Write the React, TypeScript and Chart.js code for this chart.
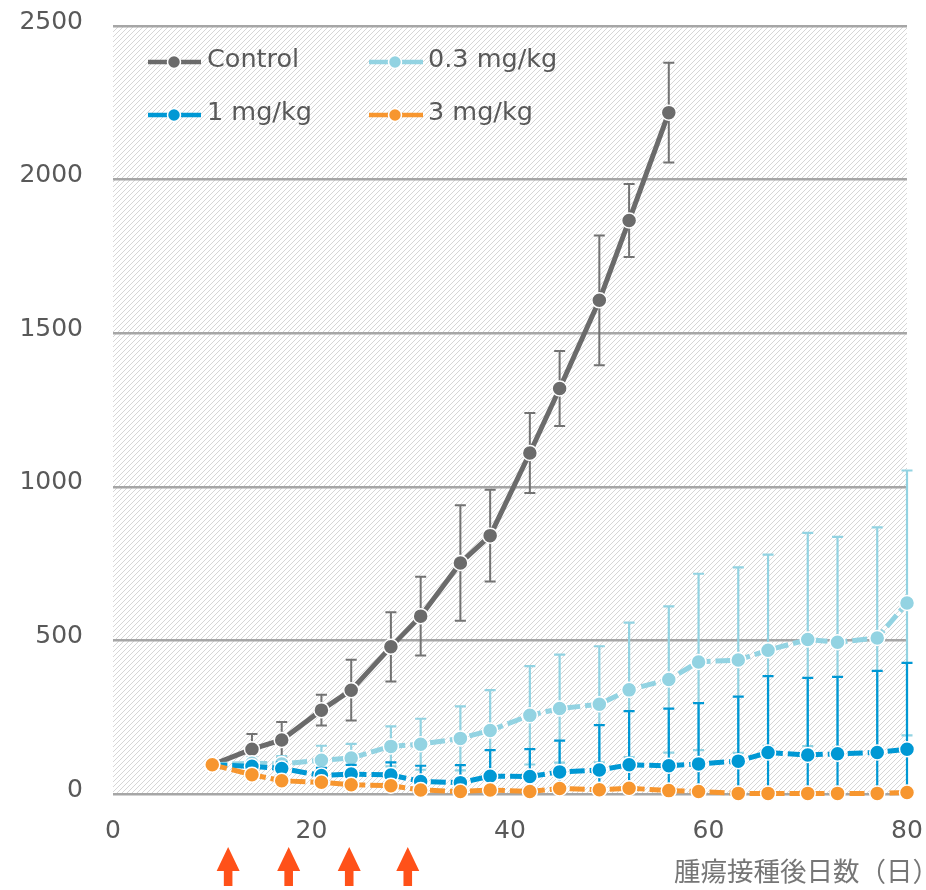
import React, { useEffect, useRef } from "react";
import { Chart, registerables } from "chart.js";

Chart.register(...registerables);

// ---- data ----
const days = [10, 14, 17, 21, 24, 28, 31, 35, 38, 42, 45, 49, 52, 56, 59, 63, 66, 70, 73, 77, 80];
const controlDays = [10, 14, 17, 21, 24, 28, 31, 35, 38, 42, 45, 49, 52, 56];
const controlMean = [95, 146, 176, 273, 338, 479, 579, 752, 841, 1110, 1320, 1607, 1867, 2218];
const controlSd = [8, 49, 58, 50, 99, 113, 128, 188, 149, 130, 122, 211, 119, 162];
const dose03Mean = [95, 100, 98, 110, 117, 155, 162, 181, 207, 256, 278, 292, 339, 373, 430, 436, 468, 503, 494, 508, 622];
const dose03Sd = [5, 20, 25, 47, 46, 65, 83, 104, 131, 160, 176, 189, 219, 238, 287, 302, 311, 347, 343, 360, 431];
const dose1Mean = [95, 90, 83, 60, 65, 62, 41, 37, 58, 57, 72, 78, 95, 92, 98, 107, 135, 127, 131, 135, 146];
const dose1Sd = [5, 15, 20, 25, 30, 41, 51, 57, 85, 89, 102, 146, 175, 186, 198, 210, 249, 251, 250, 266, 281];
const dose3Mean = [95, 63, 43, 38, 30, 27, 13, 8, 13, 8, 18, 14, 19, 11, 8, 2, 2, 2, 2, 2, 5];
const dose3Sd = [5, 10, 12, 14, 12, 12, 8, 6, 8, 6, 10, 8, 10, 6, 5, 2, 2, 2, 2, 2, 4];
const seriesLabels = ["Control", "0.3 mg/kg", "1 mg/kg", "3 mg/kg"];
const dosingDays = [11.6, 17.7, 23.8, 29.7];
const xTicks = [0, 20, 40, 60, 80];
const yTicks = [0, 500, 1000, 1500, 2000, 2500];
const xTitle = "腫瘍接種後日数（日）";

const COLORS = ["#6b6b6b", "#93d3e2", "#0098d4", "#f7962f"];
const ERR_COLORS = ["#737373", "#93d3e2", "#0098d4", "#f7962f"];
const FONT = "'DejaVu Sans', Verdana, sans-serif";
const TEXT = "#595959";

const toPts = (xs: number[], ys: number[]) => ys.map((y, i) => ({ x: xs[i], y }));

const bgPlugin = {
  id: "bgHatch",
  beforeDraw(chart: any) {
    const { ctx, chartArea, width, height } = chart;
    ctx.save();
    ctx.fillStyle = "#ffffff";
    ctx.fillRect(0, 0, width, height);
    const s = 5;
    const tile = document.createElement("canvas");
    tile.width = s;
    tile.height = s;
    const t = tile.getContext("2d")!;
    t.fillStyle = "#ffffff";
    t.fillRect(0, 0, s, s);
    t.strokeStyle = "#d6d6d6";
    t.lineWidth = 1;
    t.beginPath();
    t.moveTo(0, s);
    t.lineTo(s, 0);
    t.moveTo(-1, 1);
    t.lineTo(1, -1);
    t.moveTo(s - 1, s + 1);
    t.lineTo(s + 1, s - 1);
    t.stroke();
    const pat = ctx.createPattern(tile, "repeat");
    ctx.fillStyle = pat;
    ctx.fillRect(chartArea.left, chartArea.top, chartArea.right - chartArea.left, chartArea.bottom - chartArea.top);
    ctx.restore();
  },
};

const errPlugin = {
  id: "errBars",
  beforeDatasetDraw(chart: any, args: any) {
    const ds: any = chart.data.datasets[args.index];
    const sd: number[] = ds.sd;
    if (!sd) return;
    const { ctx, chartArea } = chart;
    const yS = chart.scales.y;
    ctx.save();
    ctx.beginPath();
    ctx.rect(chartArea.left - 10, chartArea.top, chartArea.right - chartArea.left + 20, chartArea.bottom - chartArea.top);
    ctx.clip();
    ctx.strokeStyle = ds.errColor;
    ctx.lineWidth = ds.errWidth;
    args.meta.data.forEach((pt: any, i: number) => {
      const v = ds.data[i].y;
      const e = sd[i];
      const x = pt.x;
      const y1 = yS.getPixelForValue(v + e);
      const y2 = yS.getPixelForValue(v - e);
      ctx.beginPath();
      ctx.moveTo(x, y1);
      ctx.lineTo(x, y2);
      ctx.moveTo(x - 5.5, y1);
      ctx.lineTo(x + 5.5, y1);
      ctx.moveTo(x - 5.5, y2);
      ctx.lineTo(x + 5.5, y2);
      ctx.stroke();
    });
    ctx.restore();
  },
};

const overlayPlugin = {
  id: "overlay",
  afterDraw(chart: any) {
    const { ctx } = chart;
    const xS = chart.scales.x;
    ctx.save();
    // legend
    const cols = [
      { x0: 148, x1: 201, dot: 174, tx: 207 },
      { x0: 369, x1: 423, dot: 395, tx: 428 },
    ];
    const rows = [{ sy: 62, ty: 67 }, { sy: 115, ty: 120 }];
    chart.data.datasets.forEach((ds: any, i: number) => {
      const c = cols[i % 2];
      const r = rows[Math.floor(i / 2)];
      ctx.strokeStyle = ds.borderColor;
      ctx.lineWidth = 4.5;
      ctx.beginPath();
      ctx.moveTo(c.x0, r.sy);
      ctx.lineTo(c.x1, r.sy);
      ctx.stroke();
      ctx.beginPath();
      ctx.arc(c.dot, r.sy, 6.5, 0, Math.PI * 2);
      ctx.fillStyle = ds.borderColor;
      ctx.fill();
      ctx.lineWidth = 1.5;
      ctx.strokeStyle = "#ffffff";
      ctx.stroke();
      ctx.fillStyle = TEXT;
      ctx.font = `25.5px ${FONT}`;
      ctx.textAlign = "left";
      ctx.textBaseline = "alphabetic";
      ctx.fillText(ds.label, c.tx, r.ty);
    });
    // arrows
    ctx.fillStyle = "#ff5119";
    dosingDays.forEach((d) => {
      const x = xS.getPixelForValue(d);
      ctx.beginPath();
      ctx.moveTo(x, 847);
      ctx.lineTo(x + 11.5, 871);
      ctx.lineTo(x + 4.3, 871);
      ctx.lineTo(x + 4.3, 886);
      ctx.lineTo(x - 4.3, 886);
      ctx.lineTo(x - 4.3, 871);
      ctx.lineTo(x - 11.5, 871);
      ctx.closePath();
      ctx.fill();
    });
    // x title
    ctx.fillStyle = "#767676";
    ctx.font = `26.5px 'Noto Sans CJK JP', sans-serif`;
    ctx.textAlign = "left";
    ctx.textBaseline = "middle";
    ctx.fillText(xTitle, 674, 871);
    ctx.restore();
  },
};

export default function App() {
  const ref = useRef<HTMLCanvasElement>(null);
  useEffect(() => {
    document.body.style.margin = "0";
    const mk = (i: number, xs: number[], ys: number[], sd: number[], dashed: boolean, order: number) => ({
      label: seriesLabels[i],
      data: toPts(xs, ys),
      sd,
      errColor: ERR_COLORS[i],
      errWidth: i === 0 ? 2 : 2.2,
      borderColor: COLORS[i],
      backgroundColor: COLORS[i],
      borderWidth: 5,
      borderDash: dashed ? [15, 5] : [],
      pointRadius: 7.5,
      pointHoverRadius: 7.5,
      pointBackgroundColor: COLORS[i],
      pointBorderColor: "#ffffff",
      pointBorderWidth: 1.5,
      tension: 0,
      clip: false,
      order,
    });
    const chart = new Chart(ref.current!, {
      type: "line",
      data: {
        datasets: [
          mk(0, controlDays, controlMean, controlSd, false, 3),
          mk(1, days, dose03Mean, dose03Sd, true, 2),
          mk(2, days, dose1Mean, dose1Sd, true, 1),
          mk(3, days, dose3Mean, dose3Sd, true, 0),
        ] as any,
      },
      options: {
        animation: false,
        responsive: false,
        devicePixelRatio: 1,
        layout: { padding: { left: 0, right: 19, top: 26, bottom: 0 } },
        plugins: { legend: { display: false }, tooltip: { enabled: false } },
        scales: {
          x: {
            type: "linear",
            min: 0,
            max: 80,
            afterBuildTicks: (s: any) => {
              s.ticks = xTicks.map((v) => ({ value: v }));
            },
            afterFit: (s: any) => {
              s.height = 96;
              s.paddingLeft = 0;
              s.paddingRight = 0;
            },
            grid: { display: false, drawTicks: false },
            border: { display: false },
            ticks: { color: TEXT, font: { family: FONT, size: 25 }, padding: 22, maxRotation: 0, callback: (v: any) => String(v) },
          },
          y: {
            type: "linear",
            min: 0,
            max: 2500,
            afterBuildTicks: (s: any) => {
              s.ticks = yTicks.map((v) => ({ value: v }));
            },
            afterFit: (s: any) => {
              s.width = 113;
              s.paddingTop = 0;
              s.paddingBottom = 0;
            },
            grid: { color: "#a6a6a6", lineWidth: 2.5, drawTicks: false },
            border: { display: false },
            ticks: { color: TEXT, font: { family: FONT, size: 25 }, padding: 30, labelOffset: -4, callback: (v: any) => String(v) },
          },
        },
      } as any,
      plugins: [bgPlugin, errPlugin, overlayPlugin],
    });
    return () => chart.destroy();
  }, []);
  return <canvas ref={ref} width={926} height={890} style={{ display: "block" }} />;
}
